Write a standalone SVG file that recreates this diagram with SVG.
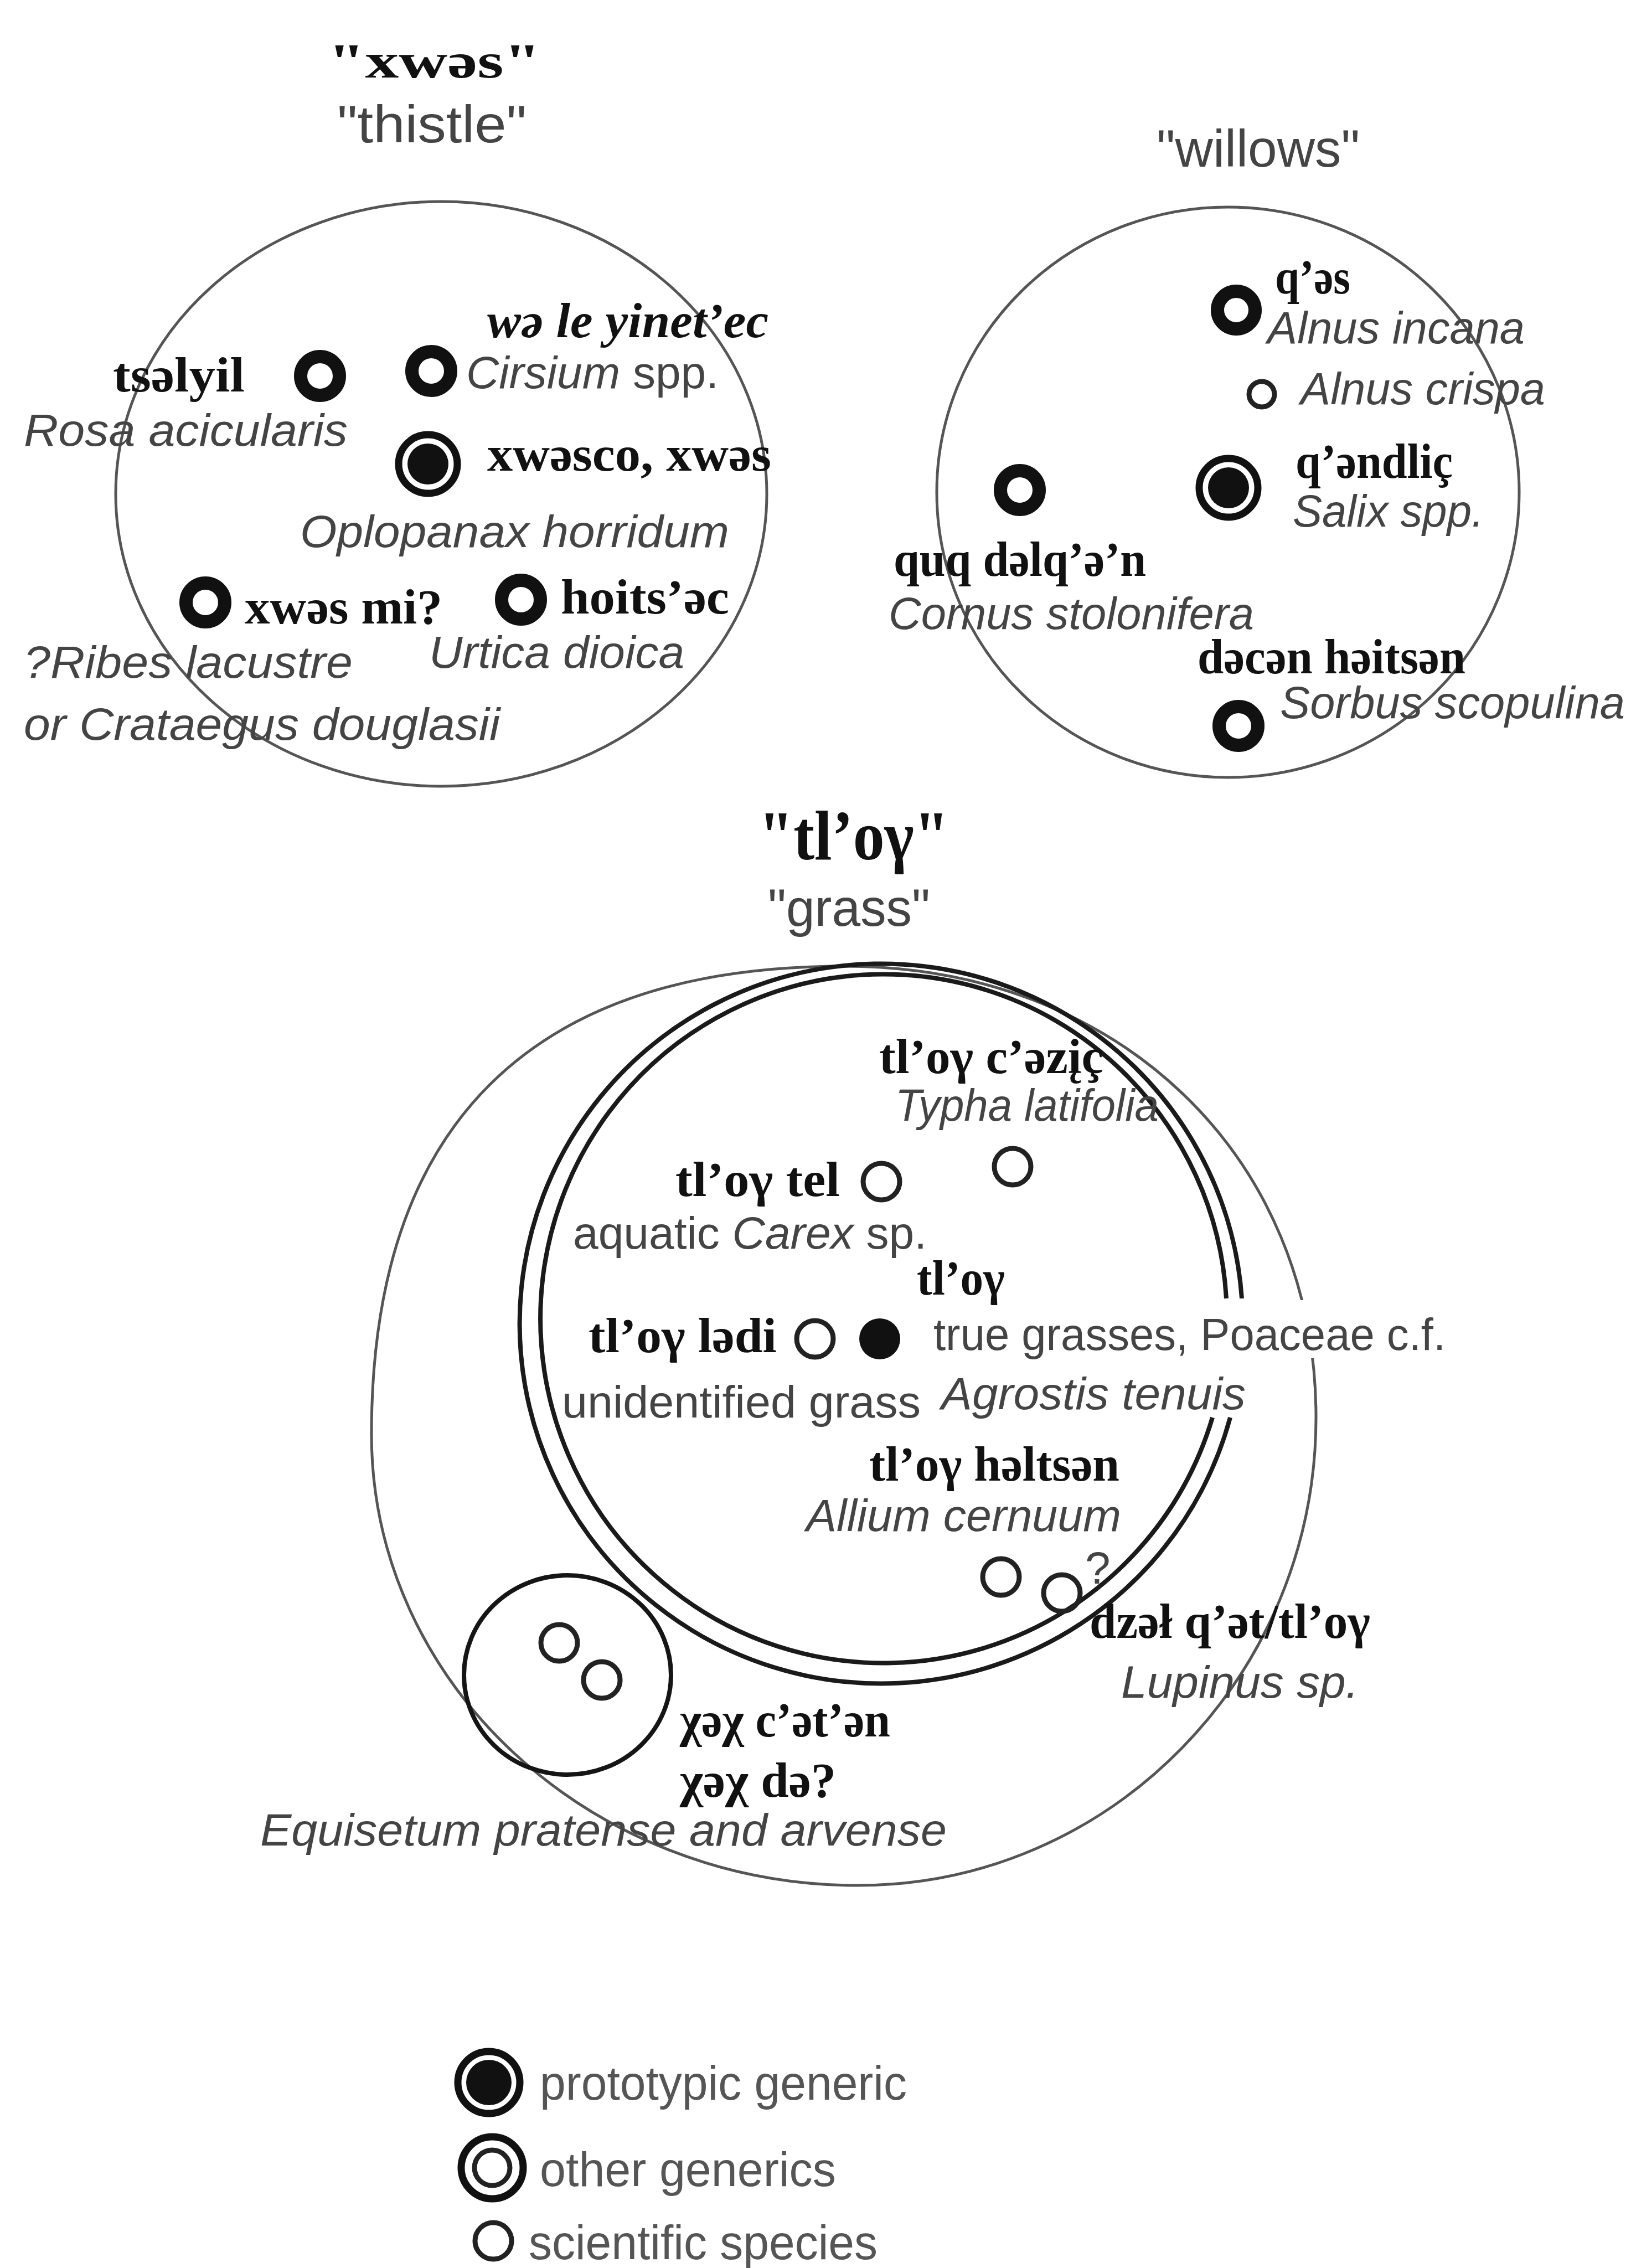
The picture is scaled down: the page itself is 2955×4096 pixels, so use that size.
<svg xmlns="http://www.w3.org/2000/svg" width="2955" height="4096" viewBox="0 0 2955 4096">
<style>
.ell{fill:none;stroke:#555;stroke-width:5}
.dbl{fill:none;stroke:#1a1a1a;stroke-width:8}
.eq{fill:none;stroke:#151515;stroke-width:8}
.ring{fill:none;stroke:#111;stroke-width:24}
.po{fill:none;stroke:#111;stroke-width:13}
.pi{fill:#111}
.sp{fill:none;stroke:#222;stroke-width:9}
.bs{font-family:"Liberation Serif","DejaVu Serif",serif;font-weight:bold;font-size:88px;fill:#111}
.rs{font-family:"Liberation Serif","DejaVu Serif",serif;font-weight:bold;font-size:128px;fill:#111}
.it{font-family:"Liberation Sans","DejaVu Sans",sans-serif;font-style:italic;font-size:82px;fill:#444}
.sn{font-family:"Liberation Sans","DejaVu Sans",sans-serif;font-size:82px;fill:#444}
.ti{font-family:"Liberation Sans","DejaVu Sans",sans-serif;font-size:95px;fill:#444}
.lg{font-family:"Liberation Sans","DejaVu Sans",sans-serif;font-size:88px;fill:#555}
</style>
<rect width="2955" height="4096" fill="#fff"/>
<g id="connectors"></g>

<!-- THISTLE -->
<g id="thistle">
<text class="bs" x="592" y="140" font-size="150" textLength="385" lengthAdjust="spacingAndGlyphs">"xwəs"</text>
<text class="ti" x="609" y="257" textLength="342" lengthAdjust="spacingAndGlyphs">"thistle"</text>
<ellipse class="ell" cx="797" cy="892" rx="588" ry="528"/>
</g>
<g id="tselyil">
<circle class="ring" cx="578" cy="679" r="35"/>
<text class="bs" x="204" y="707" textLength="238" lengthAdjust="spacingAndGlyphs">tsəlyil</text>
<text class="it" x="43" y="805" textLength="585" lengthAdjust="spacingAndGlyphs">Rosa acicularis</text>
</g>
<g id="we-le-yinetec">
<circle class="ring" cx="779" cy="670" r="35"/>
<text class="bs" x="880" y="609" font-style="italic" textLength="508" lengthAdjust="spacingAndGlyphs">wə le yinet’ec</text>
<text class="sn" x="842" y="701" textLength="456" lengthAdjust="spacingAndGlyphs"><tspan font-style="italic">Cirsium</tspan> spp.</text>
</g>
<g id="xwesco">
<circle class="po" cx="773" cy="838" r="53"/>
<circle class="pi" cx="773" cy="838" r="37"/>
<text class="bs" x="880" y="850" textLength="513" lengthAdjust="spacingAndGlyphs">xwəsco, xwəs</text>
<text class="it" x="542" y="988" textLength="775" lengthAdjust="spacingAndGlyphs">Oplopanax horridum</text>
</g>
<g id="xwes-mi">
<circle class="ring" cx="371" cy="1088" r="35"/>
<text class="bs" x="442" y="1126" textLength="357" lengthAdjust="spacingAndGlyphs">xwəs mi?</text>
<text class="it" x="43" y="1224" textLength="594" lengthAdjust="spacingAndGlyphs">?Ribes lacustre</text>
<text class="it" x="43" y="1336" textLength="860" lengthAdjust="spacingAndGlyphs">or Crataegus douglasii</text>
</g>
<g id="hoitsec">
<circle class="ring" cx="941" cy="1083" r="35"/>
<text class="bs" x="1013" y="1108" textLength="304" lengthAdjust="spacingAndGlyphs">hoits’əc</text>
<text class="it" x="775" y="1206" textLength="461" lengthAdjust="spacingAndGlyphs">Urtica dioica</text>
</g>

<!-- WILLOWS -->
<g id="willows">
<text class="ti" x="2089" y="301" textLength="367" lengthAdjust="spacingAndGlyphs">"willows"</text>
<ellipse class="ell" cx="2218" cy="889" rx="526" ry="515"/>
</g>
<g id="qes">
<circle class="ring" cx="2233" cy="560" r="34"/>
<text class="bs" x="2303" y="530" font-size="66" textLength="136" lengthAdjust="spacingAndGlyphs">q’əs</text>
<text class="it" x="2289" y="620" textLength="465" lengthAdjust="spacingAndGlyphs">Alnus incana</text>
</g>
<g id="alnus-crispa">
<circle class="sp" cx="2279" cy="712" r="23" stroke-width="8"/>
<text class="it" x="2349" y="730" textLength="442" lengthAdjust="spacingAndGlyphs">Alnus crispa</text>
</g>
<g id="qendlic">
<circle class="po" cx="2219" cy="881" r="53"/>
<circle class="pi" cx="2219" cy="881" r="37"/>
<text class="bs" x="2340" y="863" textLength="284" lengthAdjust="spacingAndGlyphs">q’əndliç</text>
<text class="it" x="2335" y="951" textLength="345" lengthAdjust="spacingAndGlyphs">Salix spp.</text>
</g>
<g id="quq-delqen">
<circle class="ring" cx="1842" cy="885" r="35"/>
<text class="bs" x="1614" y="1040" textLength="456" lengthAdjust="spacingAndGlyphs">quq dəlq’ə’n</text>
<text class="it" x="1605" y="1136" textLength="660" lengthAdjust="spacingAndGlyphs">Cornus stolonifera</text>
</g>
<g id="decen-heitsen">
<circle class="ring" cx="2237" cy="1311" r="35"/>
<text class="bs" x="2163" y="1216" textLength="484" lengthAdjust="spacingAndGlyphs">dəcən həitsən</text>
<text class="it" x="2312" y="1297" textLength="623" lengthAdjust="spacingAndGlyphs">Sorbus scopulina</text>
</g>

<!-- GRASS -->
<g id="grass">
<text class="rs" x="1370" y="1552" textLength="344" lengthAdjust="spacingAndGlyphs">"tl’oγ"</text>
<text class="ti" x="1387" y="1672" textLength="293" lengthAdjust="spacingAndGlyphs">"grass"</text>
<path class="ell" d="M671 2590 C671 2030 960 1745 1524 1745 C2019 1745 2377 2087 2377 2560 C2377 3026 2006 3405 1550 3405 C1065 3405 671 3040 671 2590 Z"/>
<rect x="2335" y="2348" width="70" height="105" fill="#fff"/>
<path class="dbl" d="M2222 2560 A653 650 0 1 1 2243 2345"/>
<path class="dbl" d="M2190 2560 A620 622 0 1 1 2215 2345"/>
</g>
<g id="tloy-cezic">
<circle class="sp" cx="1829" cy="2107" r="33"/>
<text class="bs" x="1588" y="1938" textLength="405" lengthAdjust="spacingAndGlyphs">tl’oγ c’əzįç</text>
<text class="it" x="1617" y="2024" textLength="476" lengthAdjust="spacingAndGlyphs">Typha latifolia</text>
</g>
<g id="tloy-tel">
<circle class="sp" cx="1592" cy="2134" r="33"/>
<text class="bs" x="1220" y="2160" textLength="297" lengthAdjust="spacingAndGlyphs">tl’oγ tel</text>
<text class="sn" x="1035" y="2255" textLength="639" lengthAdjust="spacingAndGlyphs">aquatic <tspan font-style="italic">Carex</tspan> sp.</text>
</g>
<g id="tloy-ledi">
<circle class="sp" cx="1472" cy="2418" r="33"/>
<text class="bs" x="1063" y="2442" textLength="340" lengthAdjust="spacingAndGlyphs">tl’oγ lədi</text>
<text class="sn" x="1015" y="2560" textLength="648" lengthAdjust="spacingAndGlyphs">unidentified grass</text>
</g>
<g id="tloy">
<circle class="pi" cx="1589" cy="2418" r="37"/>
<text class="bs" x="1656" y="2338" textLength="159" lengthAdjust="spacingAndGlyphs">tl’oγ</text>
<text class="sn" x="1686" y="2438" textLength="925" lengthAdjust="spacingAndGlyphs">true grasses, Poaceae c.f.</text>
<text class="it" x="1700" y="2545" textLength="550" lengthAdjust="spacingAndGlyphs">Agrostis tenuis</text>
</g>
<g id="tloy-heltsen">
<circle class="sp" cx="1808" cy="2848" r="33"/>
<text class="bs" x="1570" y="2674" textLength="452" lengthAdjust="spacingAndGlyphs">tl’oγ həltsən</text>
<text class="it" x="1456" y="2765" textLength="569" lengthAdjust="spacingAndGlyphs">Allium cernuum</text>
</g>
<g id="dzel-qet-tloy">
<circle class="sp" cx="1918" cy="2877" r="33"/>
<text class="sn" x="1960" y="2860" font-size="66">?</text>
<text class="bs" x="1968" y="2958" textLength="507" lengthAdjust="spacingAndGlyphs">dzəł q’ət/tl’oγ</text>
<text class="it" x="2025" y="3066" textLength="429" lengthAdjust="spacingAndGlyphs">Lupinus  sp.</text>
</g>
<g id="xex">
<ellipse class="eq" cx="1025" cy="3025" rx="187" ry="180"/>
<circle class="sp" cx="1010" cy="2967" r="33"/>
<circle class="sp" cx="1087" cy="3034" r="33"/>
<text class="bs" x="1228" y="3136" textLength="380" lengthAdjust="spacingAndGlyphs">χəχ c’ət’ən</text>
<text class="bs" x="1228" y="3245" textLength="282" lengthAdjust="spacingAndGlyphs">χəχ də?</text>
<text class="it" x="470" y="3333" textLength="1240" lengthAdjust="spacingAndGlyphs">Equisetum pratense and arvense</text>
</g>

<!-- LEGEND -->
<g id="legend-prototypic">
<circle class="po" cx="883" cy="3761" r="56" stroke-width="15"/>
<circle class="pi" cx="883" cy="3761" r="41"/>
<text class="lg" x="975" y="3792" textLength="663" lengthAdjust="spacingAndGlyphs">prototypic generic</text>
</g>
<g id="legend-other">
<circle class="po" cx="889" cy="3915" r="56" stroke-width="14"/>
<circle class="sp" cx="889" cy="3915" r="32" stroke-width="15"/>
<text class="lg" x="975" y="3948" textLength="535" lengthAdjust="spacingAndGlyphs">other generics</text>
</g>
<g id="legend-species">
<circle class="sp" cx="891" cy="4047" r="33" stroke-width="11"/>
<text class="lg" x="955" y="4080" textLength="630" lengthAdjust="spacingAndGlyphs">scientific species</text>
</g>
</svg>
